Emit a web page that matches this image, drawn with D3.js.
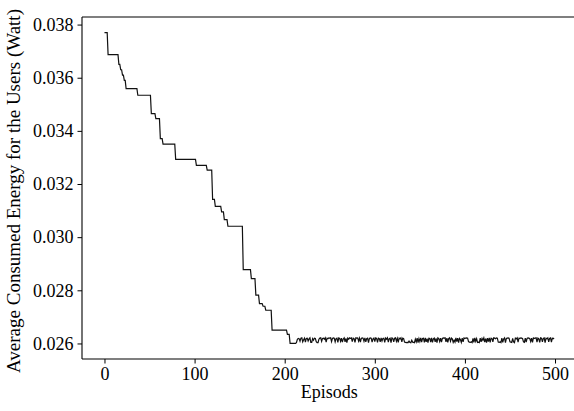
<!DOCTYPE html>
<html>
<head>
<meta charset="utf-8">
<script src="https://cdn.jsdelivr.net/npm/d3@7/dist/d3.min.js"></script>
<style>
  html, body { margin: 0; padding: 0; background: #fff; overflow: hidden; }
  svg { display: block; }
  text { font-family: "Liberation Serif", "Times New Roman", serif; fill: #000; }
</style>
</head>
<body>
<div id="chart"></div>
<script>
// Stepwise phase: [first episode of the run, average energy in watts]
const stepRuns = [
  [0, 0.03770], [4, 0.03687], [16, 0.03650], [18, 0.03630], [20, 0.03610],
  [22, 0.03590], [24, 0.03559], [37, 0.03534], [52, 0.03465], [57, 0.03446],
  [62, 0.03371], [65, 0.03350], [79, 0.03293], [102, 0.03270], [114, 0.03252],
  [120, 0.03142], [123, 0.03116], [130, 0.03095], [133, 0.03066], [137, 0.03041],
  [154, 0.02878], [163, 0.02844], [168, 0.02782], [172, 0.02750], [176, 0.02740],
  [179, 0.02725], [186, 0.02650], [203, 0.02634], [206, 0.02600]
];
const plateauStart = 213;   // first episode of the converged phase
const plateauBase = 0.026;  // watts
// Converged phase, episodes 213..499, in units of 1e-5 W above plateauBase
const plateauOffsets = [
  3, 15, 19, 18, 8, 20, 21, 6, 14, 20,
  5, 19, 20, 9, 17, 21, 4, 4, 18, 12,
  20, 19, 7, 3, 3, 16, 20, 21, 8, 19,
  20, 16, 21, 5, 20, 18, 21, 20, 21, 7,
  19, 21, 20, 6, 18, 20, 4, 21, 19, 8,
  20, 5, 17, 21, 6, 19, 3, 20, 16, 21,
  19, 21, 7, 20, 18, 4, 21, 20, 21, 9,
  20, 5, 19, 21, 20, 8, 21, 6, 18, 20,
  3, 19, 21, 20, 5, 17, 20, 7, 21, 19,
  4, 20, 18, 6, 21, 9, 19, 20, 4, 20,
  16, 21, 5, 18, 20, 3, 21, 19, 6, 20,
  21, 8, 19, 4, 20, 17, 21, 6, 20, 18,
  5, 4, 3, 4, 3, 9, 4, 3, 12, 5,
  4, 3, 16, 6, 20, 3, 18, 7, 21, 5,
  19, 20, 4, 21, 6, 18, 3, 20, 19, 5,
  21, 4, 17, 20, 6, 19, 3, 21, 18, 7,
  20, 5, 19, 21, 20, 21, 6, 20, 4, 18,
  21, 8, 20, 17, 4, 12, 5, 21, 7, 20,
  3, 19, 15, 4, 20, 6, 21, 19, 20, 21,
  20, 7, 5, 4, 6, 3, 19, 4, 21, 8,
  18, 4, 5, 3, 20, 6, 19, 12, 21, 5,
  18, 3, 20, 7, 21, 4, 20, 19, 6, 21,
  20, 18, 21, 20, 5, 4, 6, 3, 20, 4,
  17, 21, 3, 19, 20, 21, 20, 6, 5, 4,
  19, 6, 3, 20, 17, 21, 5, 20, 19, 21,
  20, 18, 6, 4, 20, 5, 19, 21, 20, 18,
  7, 20, 4, 21, 19, 20, 21, 5, 20, 17,
  4, 21, 20, 6, 19, 21, 3, 20, 18, 21,
  6, 19, 21, 5, 20, 18, 21
];
const xTicks = [0, 100, 200, 300, 400, 500];
const yTicks = [0.026, 0.028, 0.030, 0.032, 0.034, 0.036, 0.038];
const xLabel = "Episods";
const yLabel = "Average Consumed Energy for the Users (Watt)";

// Expand runs + plateau into one value per episode
const series = [];
stepRuns.forEach(([start, v], i) => {
  const end = i + 1 < stepRuns.length ? stepRuns[i + 1][0] : plateauStart;
  for (let e = start; e < end; e++) series.push({ ep: e, v });
});
plateauOffsets.forEach((o, i) => series.push({ ep: plateauStart + i, v: plateauBase + o * 1e-5 }));

const W = 574, H = 411;
// the axes box runs past the right edge of the figure, so its right side is cut off
const plot = { left: 82, right: 576.6, top: 17, bottom: 359 };

const svg = d3.select("#chart").append("svg").attr("width", W).attr("height", H);

// 5% padding on both axes
const xExt = d3.extent(series, d => d.ep), yExt = d3.extent(series, d => d.v);
const xPad = (xExt[1] - xExt[0]) * 0.05, yPad = (yExt[1] - yExt[0]) * 0.05;
const x = d3.scaleLinear().domain([xExt[0] - xPad, xExt[1] + xPad]).range([plot.left, plot.right]);
const y = d3.scaleLinear().domain([yExt[0] - yPad, yExt[1] + yPad]).range([plot.bottom, plot.top]);

const fontSize = 18;

const xAxis = svg.append("g").attr("transform", `translate(0,${plot.bottom})`)
  .call(d3.axisBottom(x).tickValues(xTicks).tickFormat(d3.format("d")).tickSize(4.5).tickPadding(4));
const yAxis = svg.append("g").attr("transform", `translate(${plot.left},0)`)
  .call(d3.axisLeft(y).tickValues(yTicks).tickFormat(d3.format(".3f")).tickSize(4.5).tickPadding(4));
[xAxis, yAxis].forEach(g => {
  g.select(".domain").remove();
  g.selectAll(".tick line").attr("stroke", "#000").attr("stroke-width", 1);
  g.selectAll(".tick text").attr("font-size", fontSize)
    .attr("font-family", "Liberation Serif, Times New Roman, serif").attr("fill", "#000");
});

// Frame: left, bottom and top sides
const spine = (x1, y1, x2, y2) => svg.append("line")
  .attr("x1", x1).attr("y1", y1).attr("x2", x2).attr("y2", y2)
  .attr("stroke", "#000").attr("stroke-width", 1.1);
spine(plot.left, plot.top, plot.left, plot.bottom);
spine(plot.left, plot.bottom, W, plot.bottom);
spine(plot.left, plot.top, W, plot.top);

// Energy curve
svg.append("path").datum(series)
  .attr("fill", "none").attr("stroke", "#111").attr("stroke-width", 1.2)
  .attr("stroke-linejoin", "miter")
  .attr("d", d3.line().x(d => x(d.ep)).y(d => y(d.v)));

// Axis titles
svg.append("text").attr("x", (plot.left + plot.right) / 2).attr("y", 398)
  .attr("text-anchor", "middle").attr("font-size", fontSize).text(xLabel);
svg.append("text")
  .attr("transform", `translate(20,${(plot.top + plot.bottom) / 2 + 3}) rotate(-90)`)
  .attr("text-anchor", "middle").attr("font-size", 19).text(yLabel);
</script>
</body>
</html>
